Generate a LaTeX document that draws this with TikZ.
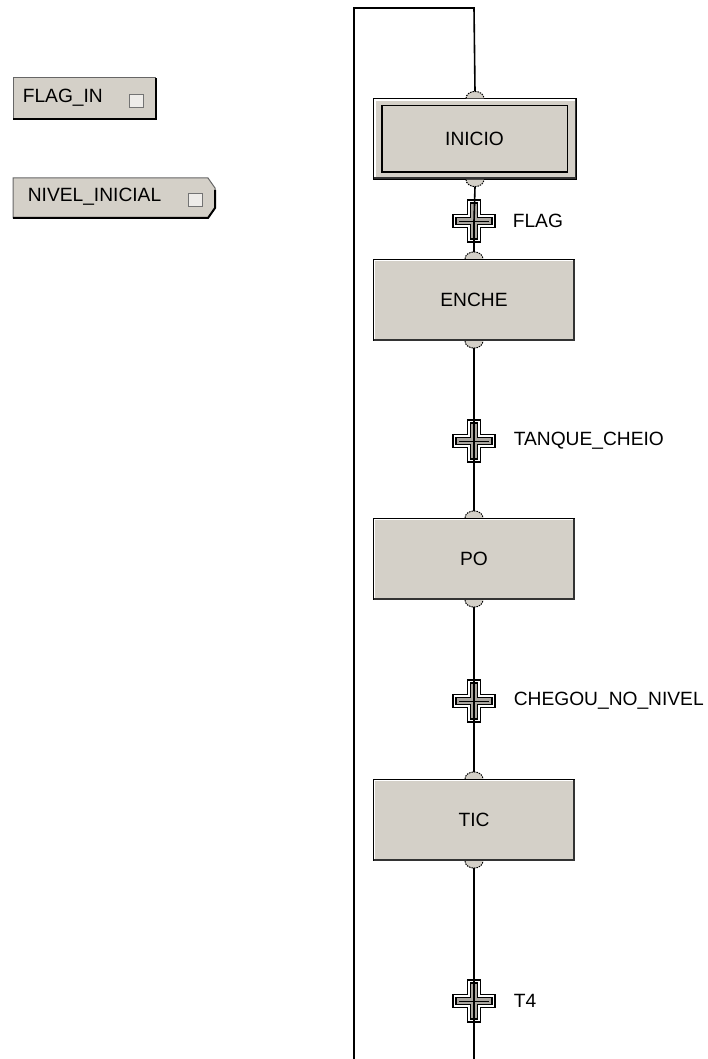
\documentclass[tikz,border=0pt]{standalone}
\usepackage{fontspec}
\setmainfont{Liberation Sans}
\usepackage{tikz}
\usetikzlibrary{positioning}

\definecolor{panel}{HTML}{D4D0C8}

% 3D frame of a step box
\newcommand{\stepframe}[1]{%
  \draw[white, line width=1.2pt] ([xshift=1.6pt,yshift=2pt]#1.south west) -- ([xshift=1.6pt,yshift=-1.6pt]#1.north west) -- ([xshift=-2pt,yshift=-1.6pt]#1.north east);
  \draw[black!80, line width=1.8pt] ([xshift=-1.2pt,yshift=-1pt]#1.north east) -- ([xshift=-1.2pt,yshift=1.2pt]#1.south east) -- ([xshift=1pt,yshift=1.2pt]#1.south west);
}
% connection bumps above and below a step
\newcommand{\stepbumps}[1]{%
  \path[fill=panel, draw=black, dash pattern=on 1.5pt off 1pt, line width=1pt] ([xshift=-9pt]#1.north) arc (180:0:9pt and 7pt);
  \path[fill=panel, draw=black, dash pattern=on 1.5pt off 1pt, line width=1pt] ([xshift=-9pt]#1.south) arc (180:360:9pt and 7pt);
}
% transition cross
\newcommand{\transcross}[1]{%
  \begin{scope}[shift={(#1)}]
    \draw[black, line width=1.8pt, fill=white] (-6.5,-21) -- (6.5,-21) -- (6.5,-6.5) -- (21,-6.5) -- (21,6.5) -- (6.5,6.5) -- (6.5,21) -- (-6.5,21) -- (-6.5,6.5) -- (-21,6.5) -- (-21,-6.5) -- (-6.5,-6.5) -- cycle;
    \draw[black, line width=1.3pt, fill=panel!80!black] (-3.5,-18) -- (3.5,-18) -- (3.5,-3.5) -- (18,-3.5) -- (18,3.5) -- (3.5,3.5) -- (3.5,18) -- (-3.5,18) -- (-3.5,3.5) -- (-18,3.5) -- (-18,-3.5) -- (-3.5,-3.5) -- cycle;
    \draw[black, line width=0.9pt] (-15,0) -- (15,0);
  \end{scope}
}

\begin{document}
\begin{tikzpicture}[x=1pt, y=-1pt, line width=1.6pt,
    font=\fontsize{19.2}{21}\selectfont,
    stepbox/.style={draw=black, fill=panel, line width=1.2pt, minimum width=201pt, minimum height=81pt, inner sep=0pt},
    initbox/.style={draw=black, fill=panel, line width=1pt, minimum width=185pt, minimum height=66pt, inner sep=0pt},
    translabel/.style={anchor=west, inner sep=0pt},
    portbox/.style={draw=black!60, fill=panel, line width=1pt},
    porticon/.style={draw=black!55, fill=panel!40, line width=0.9pt, minimum width=14pt, minimum height=13pt, inner sep=0pt}]
    \useasboundingbox (0,0) rectangle (707,1059);

    % Ports on the left
    \node[portbox, minimum width=142pt, minimum height=41pt, inner sep=0pt] (flagin) at (84,98.5) {};
    \draw[black, line width=2pt] ([yshift=-1pt]flagin.north east) -- (flagin.south east) -- (flagin.south west);
    \node[anchor=west, inner sep=0pt] (flagintxt) at (22,98) {FLAG\_IN};
    \node[porticon] (flaginicon) at (136,101) {};

    \draw[portbox] (13,178) -- (208,178) -- (215,188) -- (215,208) -- (208,218) -- (13,218) -- cycle;
    \draw[black, line width=2pt] (215,190) -- (215,208) -- (208,218) -- (13,218);
    \node[anchor=west, inner sep=0pt] (niveltxt) at (27,197) {NIVEL\_INICIAL};
    \node[porticon] (nivelicon) at (195,200) {};

    % Steps
    \node[stepbox, minimum width=202pt, minimum height=80pt] (inicioout) at (475,139) {};
    \node[initbox] (inicio) at (474.5,139) {INICIO};
    \node[stepbox] (enche) at (474,300) {ENCHE};
    \node[stepbox] (po) at (474,559) {PO};
    \node[stepbox] (tic) at (474,820) {TIC};
    \stepframe{inicioout}
    \stepframe{enche}
    \stepframe{po}
    \stepframe{tic}
    \draw[black, line width=1.8pt] (inicio.north west) rectangle (inicio.south east);
    \stepbumps{inicioout}
    \stepbumps{enche}
    \stepbumps{po}
    \stepbumps{tic}

    % Transitions
    \coordinate (tflag) at (474,221);
    \coordinate (tcheio) at (474,441);
    \coordinate (tnivel) at (474,701);
    \coordinate (tquatro) at (474,1001);
    \transcross{tflag}
    \transcross{tcheio}
    \transcross{tnivel}
    \transcross{tquatro}
    \node[translabel] (lflag) at (512,221) {FLAG};
    \node[translabel] (lcheio) at (513,441) {TANQUE\_CHEIO};
    \node[translabel] (lnivel) at (513,701) {CHEGOU\_NO\_NIVEL};
    \node[translabel] (lquatro) at (513,1001) {T4};

    % Links
    \coordinate (loopbot) at (354,1059);
    \coordinate (looplt) at (354,8);
    \coordinate (looprt) at (474,8);
    \coordinate (endbot) at (474,1059);
    \draw (loopbot) -- (looplt) -- (looprt) -- ([yshift=7pt]inicioout.north);
    \draw ([yshift=-7pt]inicioout.south) -- (tflag) -- ([yshift=7pt]enche.north);
    \draw ([yshift=-7pt]enche.south) -- (tcheio) -- ([yshift=7pt]po.north);
    \draw ([yshift=-7pt]po.south) -- (tnivel) -- ([yshift=7pt]tic.north);
    \draw ([yshift=-7pt]tic.south) -- (tquatro) -- (endbot);
\end{tikzpicture}
\end{document}
